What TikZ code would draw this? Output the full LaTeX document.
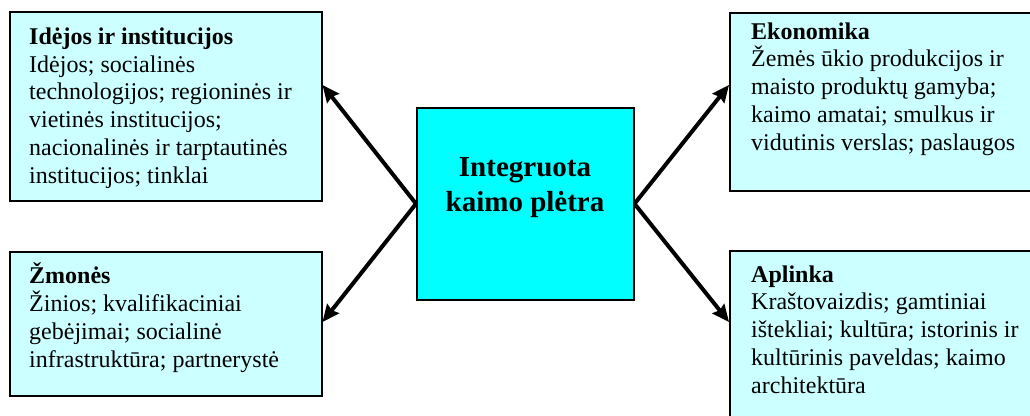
\documentclass[tikz,border=0pt]{standalone}
\usepackage{fontspec}
\setmainfont{Liberation Serif}
\usetikzlibrary{arrows.meta}
\definecolor{palecyan}{HTML}{CCFFFF}
\definecolor{brightcyan}{HTML}{00FFFF}
\begin{document}
\begin{tikzpicture}[x=1pt,y=-1pt,
  box/.style={draw=black,line width=1.5pt,fill=palecyan,rectangle,anchor=north west,inner sep=0pt},
  hub/.style={draw=black,line width=1.5pt,fill=brightcyan,rectangle,anchor=north west,inner sep=0pt},
  % multi-line texts are placed by the baseline of their last line
  txt/.style={anchor=base west,inner sep=0pt,align=left,font=\fontsize{24}{27.7}\selectfont},
  hubtxt/.style={anchor=base,inner sep=0pt,align=center,font=\fontsize{29}{35}\selectfont\bfseries},
  arr/.style={line width=4pt,-{Stealth[length=17pt,width=15pt,inset=2pt]}}]
\useasboundingbox (0,0) rectangle (1030,415);
\clip (0,0) rectangle (1030,415);
\fill[white] (0,0) rectangle (1030,415);

% frames
\node[box,minimum width=312pt,minimum height=189pt] (tl) at (9,11) {};
\node[box,minimum width=312pt,minimum height=144pt] (bl) at (9,251) {};
\node[hub,minimum width=217pt,minimum height=192pt] (c) at (416,107) {};
\node[box,minimum width=320pt,minimum height=178pt] (tr) at (729,12) {};
\node[box,minimum width=320pt,minimum height=190pt] (br) at (729,250) {};

% texts
\node[txt] (tlt) at (29,183) {\textbf{Idėjos ir institucijos}\\Idėjos; socialinės\\technologijos; regioninės ir\\vietinės institucijos;\\nacionalinės ir tarptautinės\\institucijos; tinklai};
\node[txt] (blt) at (29,367) {\textbf{Žmonės}\\Žinios; kvalifikaciniai\\gebėjimai; socialinė\\infrastruktūra; partnerystė};
\node[txt] (trt) at (751,150) {\textbf{Ekonomika}\\Žemės ūkio produkcijos ir\\maisto produktų gamyba;\\kaimo amatai; smulkus ir\\vidutinis verslas; paslaugos};
\node[txt] (brt) at (751,393) {\textbf{Aplinka}\\Kraštovaizdis; gamtiniai\\ištekliai; kultūra; istorinis ir\\kultūrinis paveldas; kaimo\\architektūra};
\node[hubtxt] (ct) at (525,211) {Integruota\\kaimo plėtra};

% arrows
\coordinate (yup) at (0,85);
\coordinate (ydn) at (0,322);
\draw[arr] (c.west) -- (tl.east |- yup);
\draw[arr] (c.west) -- (bl.east |- ydn);
\draw[arr] (c.east) -- (tr.west |- yup);
\draw[arr] (c.east) -- (br.west |- ydn);
\end{tikzpicture}
\end{document}
